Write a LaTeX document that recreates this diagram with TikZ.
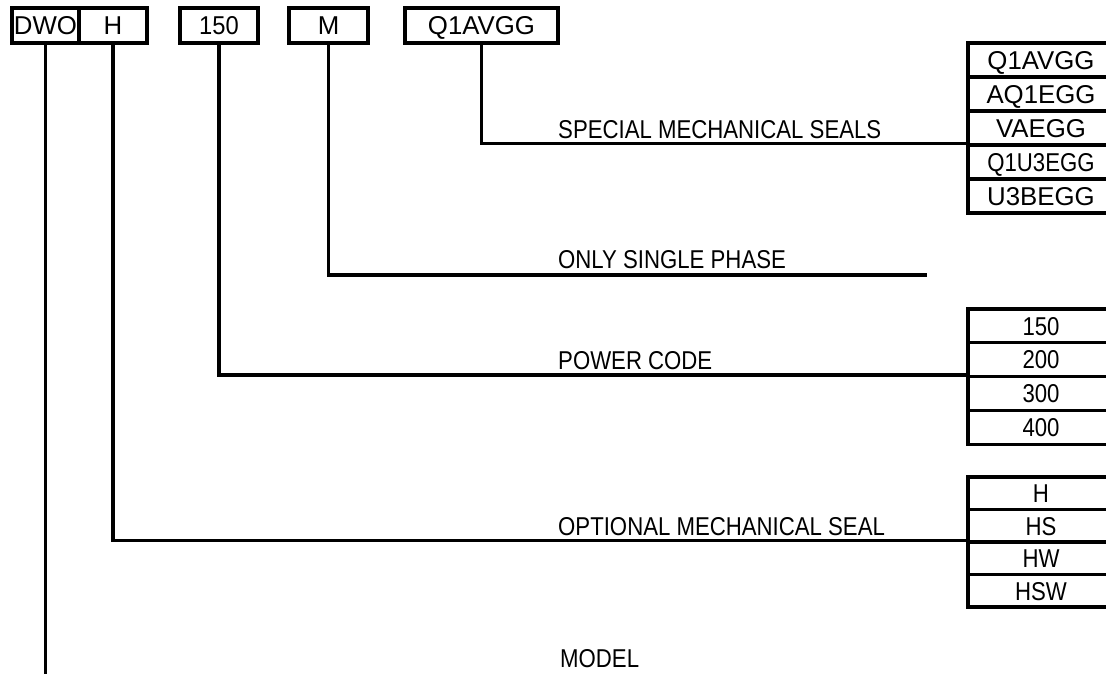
\documentclass[tikz,border=0pt]{standalone}
\usepackage{fontspec}
\setmainfont{Liberation Sans}
\newfontfamily\narrowf[FakeStretch=0.86]{Liberation Sans}
\newfontfamily\semif[FakeStretch=0.92]{Liberation Sans}
\begin{document}
\begin{tikzpicture}[x=1pt,y=-1pt,
  txt/.style={font=\fontsize{25.8}{30}\selectfont},
  ntxt/.style={font=\narrowf\fontsize{25.8}{30}\selectfont},
  stxt/.style={font=\semif\fontsize{25.8}{30}\selectfont},
  lbl/.style={ntxt, anchor=base west, inner sep=0pt},
  topbox/.style={draw, line width=3.2pt, minimum height=35pt, inner sep=0pt, text height=18.5pt, text depth=0pt, txt},
  cell/.style={draw, line width=3.2pt, minimum width=146pt, inner sep=0pt, text height=18.5pt, text depth=0pt, txt},
  conn/.style={line width=3.2pt}]
\useasboundingbox (0,0) rectangle (1106,673);
% top code boxes
\node[topbox, minimum width=67pt] (dwo) at (45.5,25.5) {DWO};
\node[topbox, minimum width=68pt] (hb) at (113,25.5) {H};
\node[topbox, minimum width=78pt, stxt] (pb) at (219,25.5) {150};
\node[topbox, minimum width=79pt] (mb) at (328.5,25.5) {M};
\node[topbox, minimum width=153pt] (qb) at (481.5,25.5) {Q1AVGG};
% table 1: special mechanical seals
\node[cell, minimum height=34pt] (ta1) at (1041,60) {Q1AVGG};
\node[cell, minimum height=34pt] (ta2) at (1041,94) {AQ1EGG};
\node[cell, minimum height=34pt] (ta3) at (1041,128) {VAEGG};
\node[cell, minimum height=34pt, ntxt] (ta4) at (1041,162) {Q1U3EGG};
\node[cell, minimum height=34pt] (ta5) at (1041,196) {U3BEGG};
% table 2: power code
\node[cell, minimum height=33.8pt, ntxt] (tb1) at (1041,325.9) {150};
\node[cell, minimum height=33.8pt, ntxt] (tb2) at (1041,359.7) {200};
\node[cell, minimum height=33.8pt, ntxt] (tb3) at (1041,393.5) {300};
\node[cell, minimum height=33.8pt, ntxt] (tb4) at (1041,427.3) {400};
% table 3: optional mechanical seal
\node[cell, minimum height=32.5pt, ntxt] (tc1) at (1041,493.25) {H};
\node[cell, minimum height=32.5pt, ntxt] (tc2) at (1041,525.75) {HS};
\node[cell, minimum height=32.5pt, ntxt] (tc3) at (1041,558.25) {HW};
\node[cell, minimum height=32.5pt, ntxt] (tc4) at (1041,590.75) {HSW};
% free ends
\coordinate (mend) at (927,275);
\coordinate (dwoend) at (45.5,676);
% connectors
\draw[conn] (qb.south) |- (ta4.north west);
\draw[conn] (mb.south) |- (mend);
\draw[conn] (pb.south) |- (tb3.north west);
\draw[conn] (hb.south) |- (tc3.north west);
\draw[conn] (dwo.south) -- (dwoend);
% labels
\node[lbl] (l1) at (558,138) {SPECIAL MECHANICAL SEALS};
\node[lbl] (l2) at (558,268) {ONLY SINGLE PHASE};
\node[lbl] (l3) at (558,369.5) {POWER CODE};
\node[lbl] (l4) at (558,535) {OPTIONAL MECHANICAL SEAL};
\node[lbl] (l5) at (560,667) {MODEL};
\end{tikzpicture}
\end{document}
